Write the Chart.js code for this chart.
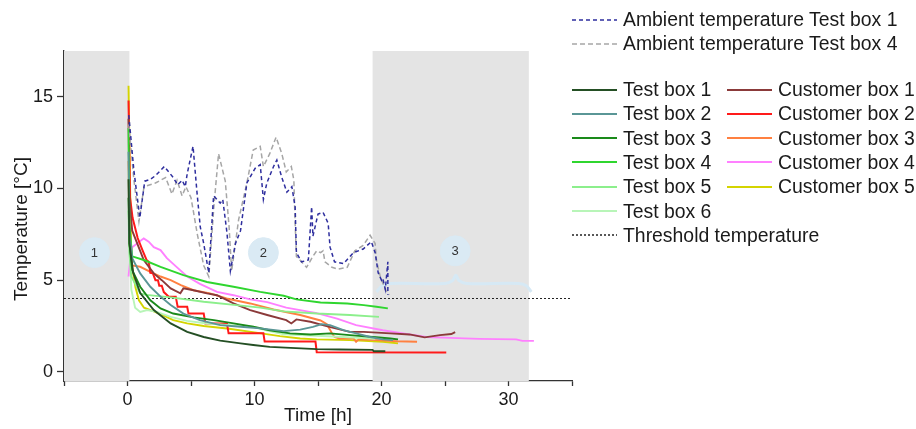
<!DOCTYPE html>
<html>
<head>
<meta charset="utf-8">
<script src="https://cdn.jsdelivr.net/npm/chart.js@4.4.1/dist/chart.umd.min.js"></script>
<style>
  body { margin: 0; background: #fff; font-family: "Liberation Sans", Arial, sans-serif; }
  #wrap { position: relative; width: 916px; height: 429px; }
  #chart { position: absolute; left: 0; top: 0; }
  .lg-row { position: absolute; height: 24px; display: flex; align-items: center;
            font-size: 19.4px; color: #1a1a1a; white-space: nowrap; }
  .lg-row svg { margin-right: 6px; }
</style>
</head>
<body>
<div id="wrap">
  <canvas id="chart" width="916" height="429"></canvas>
  <div id="legend"></div>
</div>
<script>
/* Temperature in test / customer boxes over time */

const xTicks = [-5, 0, 5, 10, 15, 20, 25, 30, 35];
const yTicks = [0, 5, 10, 15];
const threshold = 4;

// shaded phases (h)
const shadeFrom = [-5, 19.3];
const shadeTo   = [0.15, 31.6];

// phase markers
const markerX   = [-2.6, 10.7, 25.8];
const markerY   = [6.5, 6.5, 6.6];
const markerLbl = ['1', '2', '3'];

// brace over phase 3
const brace = [[19.6,4.36],[20.1,4.72],[20.7,4.82],[25.0,4.82],[25.6,4.98],[25.85,5.27],[26.1,4.98],[26.7,4.82],[30.8,4.82],[31.4,4.7],[31.8,4.36]];

const ambient1 = [[0.1,14.0],[0.5,11.0],[0.97,8.4],[1.36,10.4],[1.8,10.5],[2.2,10.7],[2.9,11.2],[3.25,10.9],[3.6,10.6],[3.95,10.2],[4.3,10.45],[4.55,10.1],[4.7,10.8],[5.16,12.3],[5.47,9.8],[5.73,7.9],[6.0,7.0],[6.4,5.4],[6.78,9.6],[7.3,9.2],[7.5,9.4],[7.83,7.6],[8.1,5.5],[8.5,7.0],[8.9,7.7],[9.4,10.3],[9.8,10.8],[10.05,11.1],[10.45,11.3],[10.7,9.4],[10.97,10.3],[11.5,11.2],[11.76,11.55],[12.15,10.6],[12.55,9.8],[12.94,10.1],[13.2,9.0],[13.3,6.5],[13.7,6.0],[14.24,6.1],[14.5,9.0],[14.6,7.4],[15.0,8.6],[15.4,8.7],[15.8,8.1],[15.95,6.8],[16.3,6.0],[17.0,5.9],[17.8,6.5],[18.56,6.7],[19.2,7.1],[19.5,6.5],[19.74,5.4],[20.0,5.0],[20.1,5.1],[20.3,4.5],[20.5,6.0],[20.5,4.2]];
const ambient4 = [[0.1,13.5],[0.5,10.5],[0.9,8.2],[1.3,10.1],[2.2,10.3],[3.0,10.6],[3.5,9.7],[3.9,10.45],[4.3,9.6],[4.6,10.1],[5.0,9.5],[5.5,7.5],[6.0,5.8],[6.4,5.2],[6.8,9.0],[7.17,11.9],[7.7,10.4],[8.0,7.9],[8.2,5.5],[8.75,8.3],[9.4,10.3],[9.9,12.1],[10.45,12.3],[10.7,11.2],[11.2,11.9],[11.7,12.8],[12.15,11.9],[12.5,10.9],[12.9,11.2],[13.1,10.45],[13.2,8.1],[13.3,6.3],[14.1,5.7],[14.6,6.3],[14.9,6.6],[15.2,6.5],[15.4,6.6],[15.55,6.0],[16.1,5.7],[16.6,5.6],[17.3,5.7],[17.9,6.6],[18.56,6.9],[19.1,7.45],[19.5,7.0],[19.6,6.1],[19.9,5.2],[20.3,4.5],[20.6,4.2]];

const testBox1 = [[0.08,10.5],[0.15,7.0],[0.45,5.4],[1.0,4.3],[2.07,3.37],[3.4,2.64],[4.7,2.18],[6.0,1.9],[7.3,1.7],[8.9,1.55],[9.9,1.46],[11.2,1.36],[14.9,1.24],[16.7,1.22],[19.3,1.2],[19.4,1.12],[20.3,1.12]];
const testBox2 = [[0.08,12.0],[0.15,7.5],[0.37,6.2],[1.0,5.37],[1.8,4.64],[2.6,4.1],[3.4,3.64],[4.4,3.18],[5.7,2.82],[7.3,2.55],[8.9,2.46],[10.45,2.37],[12.3,2.22],[13.6,2.3],[14.6,2.45],[15.3,2.6],[15.95,2.55],[17.0,2.27],[18.0,2.1],[19.1,1.9],[20.1,1.77],[20.9,1.73]];
const testBox3 = [[0.08,9.5],[0.15,7.0],[0.37,5.55],[1.0,4.64],[1.8,3.9],[2.6,3.46],[3.6,3.18],[5.2,2.97],[6.8,2.82],[8.35,2.64],[9.9,2.46],[11.2,2.27],[12.8,2.1],[14.4,2.04],[15.95,2.1],[17.5,2.0],[19.35,1.9],[20.7,1.82],[21.3,1.77]];
const testBox4 = [[0.08,13.3],[0.15,8.0],[0.37,6.3],[1.28,6.1],[2.6,5.73],[4.4,5.27],[6.26,4.9],[8.35,4.64],[10.45,4.36],[12.3,4.15],[13.3,3.95],[15.2,3.78],[17.3,3.73],[18.6,3.64],[19.6,3.55],[20.5,3.46]];
const testBox5 = [[0.08,8.8],[0.15,6.5],[0.3,5.2],[1.0,4.28],[1.5,4.2],[3.4,4.06],[6.0,3.82],[8.6,3.64],[10.45,3.5],[12.3,3.3],[14.9,3.18],[17.5,3.1],[19.8,3.0]];
const testBox6 = [[0.08,11.0],[0.15,7.0],[0.3,4.5],[0.6,3.5],[1.0,3.27],[1.55,3.37],[2.3,3.27],[3.4,3.0],[4.7,2.78],[6.26,2.64],[8.1,2.55],[9.9,2.46],[11.0,2.25],[12.3,2.05],[14.9,1.97],[17.0,1.9],[19.5,1.8]];
const custBox1 = [[0.08,13.8],[0.15,9.5],[0.37,7.7],[1.28,6.1],[2.07,5.37],[2.7,5.0],[3.4,4.55],[4.16,4.28],[4.4,4.55],[5.2,4.45],[6.26,4.28],[7.05,4.18],[8.35,3.73],[9.66,3.37],[11.0,3.1],[12.5,2.82],[12.9,2.64],[13.3,2.86],[14.4,2.73],[15.9,2.45],[17.5,2.18],[18.6,2.18],[20.7,2.1],[22.2,2.04],[23.4,1.88],[24.6,2.0],[25.5,2.06],[25.8,2.17]];
const custBox2 = [[0.08,14.8],[0.2,9.5],[0.4,8.4],[0.8,7.3],[1.2,6.6],[1.5,6.1],[1.67,6.0],[1.8,5.4],[2.0,5.37],[2.2,5.0],[2.4,5.0],[2.5,4.7],[2.7,4.7],[2.86,4.35],[3.25,4.1],[3.8,4.1],[3.95,3.55],[4.7,3.55],[4.8,3.18],[6.0,3.18],[6.13,2.64],[7.83,2.64],[7.96,2.1],[10.7,2.1],[10.8,1.65],[14.8,1.65],[14.9,1.07],[25.1,1.05]];
const custBox3 = [[0.08,11.5],[0.15,7.0],[0.37,5.8],[1.0,5.73],[1.8,5.45],[2.6,5.2],[3.4,5.0],[4.2,4.73],[5.2,4.45],[6.5,4.28],[7.8,4.0],[9.66,3.73],[11.5,3.4],[13.6,3.1],[15.2,2.8],[15.7,2.6],[16.1,2.1],[16.3,1.9],[16.7,1.82],[17.8,1.82],[18.0,1.64],[18.2,1.77],[19.6,1.73],[21.2,1.67],[22.8,1.64]];
const custBox4 = [[0.08,5.2],[0.2,6.0],[0.37,6.8],[0.76,7.0],[1.28,7.28],[1.67,7.1],[2.07,6.8],[2.6,6.64],[3.1,6.2],[3.9,5.7],[4.7,5.2],[5.7,4.8],[7.05,4.36],[8.35,4.18],[9.66,3.95],[11.0,3.8],[12.5,3.5],[14.9,3.2],[16.5,2.9],[18.0,2.55],[20.1,2.27],[21.7,2.1],[23.5,1.9],[25.4,1.85],[27.7,1.8],[30.6,1.77],[31.1,1.69],[32.0,1.69]];
const custBox5 = [[0.08,15.6],[0.3,6.0],[0.63,4.6],[0.9,3.9],[1.3,3.5],[2.07,3.3],[2.9,3.05],[3.6,2.82],[4.7,2.64],[6.0,2.5],[8.0,2.35],[10.0,2.15],[12.0,1.95],[13.6,1.82],[14.9,1.77],[17.5,1.73],[20.1,1.64],[21.3,1.55]];

const AXIS = '#333';
const FONT = '"Liberation Sans", Arial, sans-serif';

const series = [
  { label: 'Ambient temperature Test box 1', data: ambient1, color: '#2e2e9e', dash: [4, 3], width: 1.5 },
  { label: 'Ambient temperature Test box 4', data: ambient4, color: '#a6a6a6', dash: [5, 3], width: 1.5 },
  { label: 'Test box 1',     data: testBox1, color: '#244f24', width: 1.9 },
  { label: 'Test box 2',     data: testBox2, color: '#5a9696', width: 1.9 },
  { label: 'Test box 3',     data: testBox3, color: '#1a8a1a', width: 1.9 },
  { label: 'Test box 4',     data: testBox4, color: '#2fd62f', width: 1.9 },
  { label: 'Test box 5',     data: testBox5, color: '#8cef8c', width: 1.9 },
  { label: 'Test box 6',     data: testBox6, color: '#b8f5b8', width: 1.9 },
  { label: 'Customer box 1', data: custBox1, color: '#8b3a3a', width: 1.9 },
  { label: 'Customer box 2', data: custBox2, color: '#ff1a1a', width: 2 },
  { label: 'Customer box 3', data: custBox3, color: '#ff8040', width: 1.9 },
  { label: 'Customer box 4', data: custBox4, color: '#ff80ff', width: 1.9 },
  { label: 'Customer box 5', data: custBox5, color: '#d4d400', width: 1.9 },
];

const toXY = arr => arr.map(p => ({ x: p[0], y: p[1] }));

const datasets = series.map((s, i) => ({
  label: s.label,
  data: toXY(s.data),
  borderColor: s.color,
  borderWidth: s.width,
  borderDash: s.dash || [],
  pointRadius: 0,
  tension: 0,
  fill: false,
  order: i < 2 ? 0 : 1,
}));

datasets.push({
  label: 'Threshold temperature',
  data: [{ x: xTicks[0], y: threshold }, { x: xTicks[xTicks.length - 1], y: threshold }],
  borderColor: '#222', borderWidth: 1, borderDash: [2, 2],
  pointRadius: 0, fill: false, order: 3,
});
datasets.push({
  label: 'brace',
  data: toXY(brace),
  borderColor: '#d6e9f5', borderWidth: 3,
  pointRadius: 0, tension: 0.35, fill: false, order: 4,
});
const MARKER_IDX = datasets.length;
datasets.push({
  label: 'phase',
  type: 'scatter',
  data: markerX.map((x, i) => ({ x, y: markerY[i] })),
  backgroundColor: '#daeaf4', borderColor: '#daeaf4',
  pointRadius: 15, pointHoverRadius: 15, order: 5,
});

const phasePlugin = {
  id: 'phases',
  beforeDatasetsDraw(chart) {
    const { ctx, chartArea: a, scales: { x } } = chart;
    ctx.save();
    ctx.fillStyle = '#e4e4e4';
    shadeFrom.forEach((s, i) => {
      const x0 = x.getPixelForValue(s), x1 = x.getPixelForValue(shadeTo[i]);
      ctx.fillRect(x0, a.top, x1 - x0, a.bottom - a.top);
    });
    ctx.restore();
  },
  afterDatasetsDraw(chart) {
    const { ctx } = chart;
    const meta = chart.getDatasetMeta(MARKER_IDX);
    ctx.save();
    ctx.fillStyle = '#333';
    ctx.font = '13px ' + FONT;
    ctx.textAlign = 'center';
    ctx.textBaseline = 'middle';
    meta.data.forEach((pt, i) => ctx.fillText(markerLbl[i], pt.x, pt.y + 1));
    ctx.restore();
  },
  afterDraw(chart) {
    // y title sits a bit below the axis centre in the original
    const { ctx, chartArea: a } = chart;
    ctx.save();
    ctx.translate(22, (a.top + a.bottom) / 2 + 13);
    ctx.rotate(-Math.PI / 2);
    ctx.fillStyle = '#1a1a1a';
    ctx.font = '19px ' + FONT;
    ctx.textAlign = 'center';
    ctx.textBaseline = 'middle';
    ctx.fillText('Temperature [°C]', 0, 0);
    ctx.restore();
  },
};

new Chart(document.getElementById('chart'), {
  type: 'line',
  data: { datasets },
  plugins: [phasePlugin],
  options: {
    responsive: false,
    animation: false,
    layout: { padding: { left: 0, right: 344, top: 51, bottom: 0 } },
    plugins: { legend: { display: false }, tooltip: { enabled: false } },
    events: [],
    scales: {
      x: {
        type: 'linear',
        min: xTicks[0], max: xTicks[xTicks.length - 1],
        afterBuildTicks: s => { s.ticks = xTicks.map(v => ({ value: v })); },
        afterFit: s => { s.height = 48; },
        grid: { drawOnChartArea: false, drawTicks: true, tickLength: 5, tickColor: AXIS, tickWidth: 1.3 },
        border: { color: AXIS, width: 1.3 },
        ticks: {
          autoSkip: false, maxRotation: 0, padding: 3, color: '#1a1a1a',
          font: { family: FONT, size: 18 },
          callback: v => (v % 10 === 0 ? v : ''),
        },
        title: { display: true, text: 'Time [h]', color: '#1a1a1a',
                 font: { family: FONT, size: 19 }, padding: { top: 0, bottom: 2 } },
      },
      y: {
        type: 'linear',
        min: -0.5, max: 17.5,
        afterBuildTicks: s => { s.ticks = yTicks.map(v => ({ value: v })); },
        afterFit: s => { s.width = 64; },
        grid: { drawOnChartArea: false, drawTicks: true, tickLength: 7, tickColor: AXIS, tickWidth: 1.3 },
        border: { color: AXIS, width: 1.3 },
        ticks: { padding: 4, color: '#1a1a1a', font: { family: FONT, size: 18 } },
      },
    },
  },
});

/* Legend */
const legendRows = [
  { col: 0, row: 0, item: series[0] },
  { col: 0, row: 1, item: series[1] },
];
series.slice(2, 8).forEach((s, i) => legendRows.push({ col: 0, row: 3 + i, item: s }));
series.slice(8).forEach((s, i) => legendRows.push({ col: 1, row: 3 + i, item: s }));
legendRows.push({ col: 0, row: 9, item: { label: 'Threshold temperature', color: '#222', dash: [2, 2], width: 1 } });

const leg = document.getElementById('legend');
legendRows.forEach(r => {
  const el = document.createElement('div');
  el.className = 'lg-row';
  const top = r.row < 2 ? 19.5 + r.row * 24.3 : 89.5 + (r.row - 3) * 24.3;
  el.style.left = (r.col === 0 ? 572 : 727) + 'px';
  el.style.top = (top - 12) + 'px';
  const dash = r.item.dash ? `stroke-dasharray="${r.item.dash.join(' ')}"` : '';
  const w = r.item.dash ? 1.3 : 2.2;
  el.innerHTML = `<svg width="45" height="6"><line x1="0" y1="3" x2="45" y2="3" stroke="${r.item.color}" stroke-width="${w}" ${dash}/></svg><span>${r.item.label}</span>`;
  leg.appendChild(el);
});
</script>
</body>
</html>
